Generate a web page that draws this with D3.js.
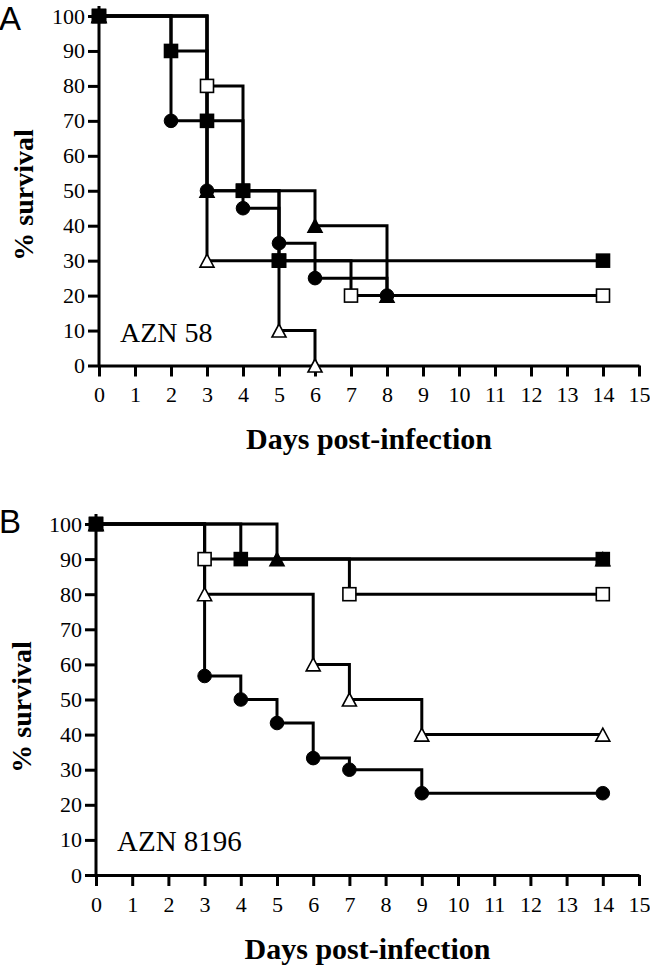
<!DOCTYPE html>
<html>
<head>
<meta charset="utf-8">
<script src="https://cdn.jsdelivr.net/npm/d3@7"></script>
<style>
  html, body { margin: 0; padding: 0; background: #fff; }
  svg { display: block; }
  text { font-family: "Liberation Serif", "Times New Roman", serif; fill: #000; }
  text.letter { font-family: "Liberation Sans", Arial, sans-serif; }
</style>
</head>
<body>
<svg id="chart" width="650" height="967"></svg>
<script>
// ---------- Data ----------
const xTicks = [0,1,2,3,4,5,6,7,8,9,10,11,12,13,14,15];
const yTicks = [0,10,20,30,40,50,60,70,80,90,100];

// Panel A (AZN 58)
const A_filledSquare_days = [0, 2, 3, 4, 5, 14];
const A_filledSquare_surv = [100, 90, 70, 50, 30, 30];
const A_openSquare_days   = [0, 3, 4, 5, 7, 14];
const A_openSquare_surv   = [100, 80, 50, 30, 20, 20];
const A_filledCircle_days = [0, 2, 3, 4, 5, 6, 8];
const A_filledCircle_surv = [100, 70, 50, 45, 35, 25, 20];
const A_filledTri_days    = [0, 3, 6, 8];
const A_filledTri_surv    = [100, 50, 40, 20];
const A_openTri_days      = [0, 3, 5, 6];
const A_openTri_surv      = [100, 30, 10, 0];

// Panel B (AZN 8196)
const B_filledSquare_days = [0, 4, 14];
const B_filledSquare_surv = [100, 90, 90];
const B_filledTri_days    = [0, 5, 14];
const B_filledTri_surv    = [100, 90, 90];
const B_openSquare_days   = [0, 3, 7, 14];
const B_openSquare_surv   = [100, 90, 80, 80];
const B_openTri_days      = [0, 3, 6, 7, 9, 14];
const B_openTri_surv      = [100, 80, 60, 50, 40, 40];
const B_filledCircle_days = [0, 3, 4, 5, 6, 7, 9, 14];
const B_filledCircle_surv = [100, 56.7, 50, 43.3, 33.3, 30, 23.3, 23.3];

const xTitle = "Days post-infection";
const yTitle = "% survival";

// ---------- Drawing ----------
const svg = d3.select("#chart");

function zip(days, surv) { return days.map((d, i) => ({ d, s: surv[i] })); }

const panels = [
  {
    letter: "A", label: "AZN 58",
    xRange: [99, 639], yRange: [365.5, 16],
    letterPos: [-1, 30], labelPos: [120, 342], labelSize: 28,
    yTitlePos: [33, 195], xTitleY: 449,
    series: [ // draw order: bottom to top
      { shape: "tri", fill: "#fff", data: zip(A_openTri_days, A_openTri_surv) },
      { shape: "square", fill: "#fff", data: zip(A_openSquare_days, A_openSquare_surv) },
      { shape: "tri", fill: "#000", data: zip(A_filledTri_days, A_filledTri_surv) },
      { shape: "circle", fill: "#000", data: zip(A_filledCircle_days, A_filledCircle_surv) },
      { shape: "square", fill: "#000", data: zip(A_filledSquare_days, A_filledSquare_surv) }
    ]
  },
  {
    letter: "B", label: "AZN 8196",
    xRange: [96, 639], yRange: [875, 524],
    letterPos: [-1, 533], labelPos: [117, 851], labelSize: 29,
    yTitlePos: [31, 707], xTitleY: 959,
    series: [
      { shape: "tri", fill: "#fff", data: zip(B_openTri_days, B_openTri_surv) },
      { shape: "circle", fill: "#000", data: zip(B_filledCircle_days, B_filledCircle_surv) },
      { shape: "square", fill: "#fff", data: zip(B_openSquare_days, B_openSquare_surv) },
      { shape: "tri", fill: "#000", data: zip(B_filledTri_days, B_filledTri_surv) },
      { shape: "square", fill: "#000", data: zip(B_filledSquare_days, B_filledSquare_surv) }
    ]
  }
];

const triPath = (() => {
  const s = 14, h = 13;
  return `M0,${-h/2}L${s/2},${h/2}L${-s/2},${h/2}Z`;
})();

panels.forEach(p => {
  const x = d3.scaleLinear().domain([0, 15]).range(p.xRange);
  const y = d3.scaleLinear().domain([0, 100]).range(p.yRange);
  const g = svg.append("g");

  // X axis
  const xAxis = d3.axisBottom(x).tickValues(xTicks).tickFormat(d3.format("d"))
    .tickSize(11).tickSizeOuter(0).tickPadding(10);
  const gx = g.append("g").attr("transform", `translate(0,${y(0)})`).call(xAxis);
  gx.attr("font-family", null);
  gx.select(".domain").attr("stroke", "#000").attr("stroke-width", 3);
  gx.selectAll(".tick line").attr("stroke", "#000").attr("stroke-width", 3);
  gx.selectAll(".tick text").attr("font-size", 22);

  // Y axis
  const yAxis = d3.axisLeft(y).tickValues(yTicks).tickFormat(d3.format("d"))
    .tickSize(11).tickSizeOuter(0).tickPadding(3);
  const gy = g.append("g").attr("transform", `translate(${x(0)},0)`).call(yAxis);
  gy.attr("font-family", null);
  gy.select(".domain").remove();
  gy.selectAll(".tick line").attr("stroke", "#000").attr("stroke-width", 3);
  gy.selectAll(".tick text").attr("font-size", 22);
  g.append("line")
    .attr("x1", x(0)).attr("x2", x(0))
    .attr("y1", y(0) + 1.5).attr("y2", y(100) - 10)
    .attr("stroke", "#000").attr("stroke-width", 3);

  // Step lines
  const line = d3.line().x(d => x(d.d)).y(d => y(d.s)).curve(d3.curveStepAfter);
  p.series.forEach(s => {
    g.append("path").attr("d", line(s.data))
      .attr("fill", "none").attr("stroke", "#000").attr("stroke-width", 3)
      .attr("stroke-linejoin", "miter").attr("stroke-linecap", "square");
  });

  // Markers
  p.series.forEach(s => {
    const m = g.append("g").selectAll("g").data(s.data).join("g")
      .attr("transform", d => `translate(${x(d.d)},${y(d.s)})`);
    if (s.shape === "square") {
      m.append("rect").attr("x", -6.5).attr("y", -6.5).attr("width", 13).attr("height", 13)
        .attr("fill", s.fill).attr("stroke", "#000").attr("stroke-width", 1.6);
    } else if (s.shape === "circle") {
      m.append("circle").attr("r", 6.8)
        .attr("fill", s.fill).attr("stroke", "#000").attr("stroke-width", 1);
    } else {
      m.append("path").attr("d", triPath)
        .attr("fill", s.fill).attr("stroke", "#000").attr("stroke-width", 1.6)
        .attr("stroke-linejoin", "miter");
    }
  });

  // Inner label
  g.append("text").attr("x", p.labelPos[0]).attr("y", p.labelPos[1])
    .attr("font-size", p.labelSize).text(p.label);

  // Panel letter
  g.append("text").attr("class", "letter")
    .attr("x", p.letterPos[0]).attr("y", p.letterPos[1])
    .attr("font-size", 33).text(p.letter);

  // Axis titles
  g.append("text")
    .attr("transform", `translate(${p.yTitlePos[0]},${p.yTitlePos[1]}) rotate(-90)`)
    .attr("text-anchor", "middle").attr("font-weight", "bold").attr("font-size", 28)
    .text(yTitle);
  g.append("text")
    .attr("x", (p.xRange[0] + p.xRange[1]) / 2).attr("y", p.xTitleY)
    .attr("text-anchor", "middle").attr("font-weight", "bold").attr("font-size", 30)
    .text(xTitle);
});
</script>
</body>
</html>
